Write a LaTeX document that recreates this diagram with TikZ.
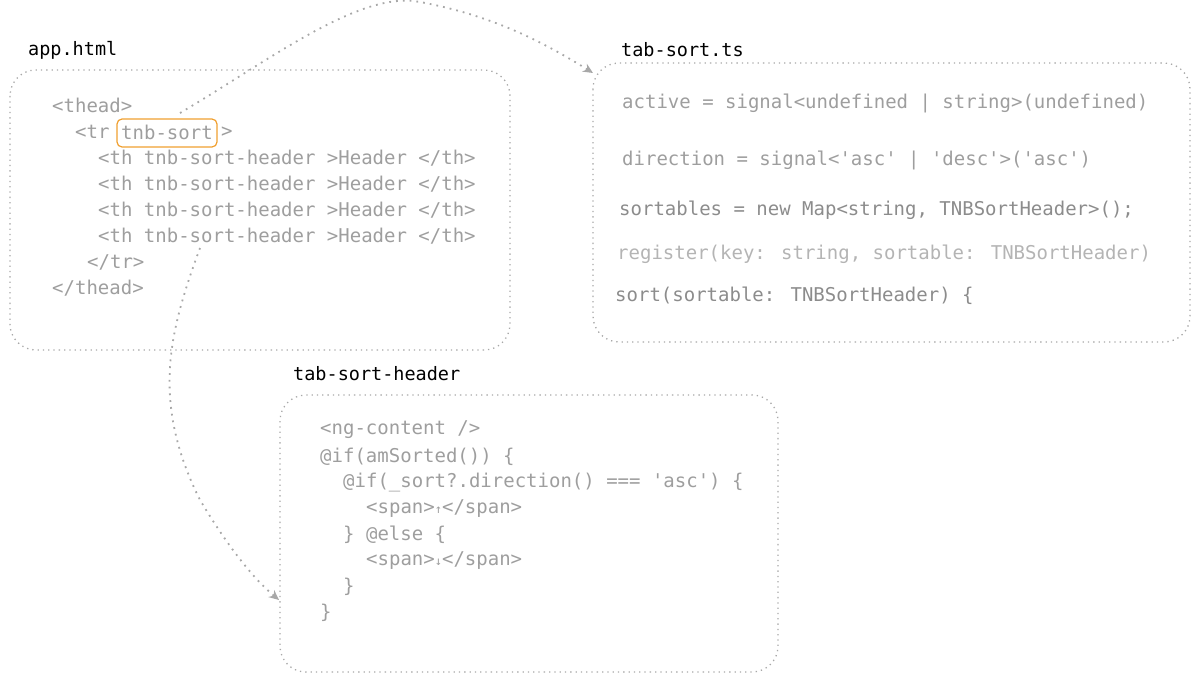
\documentclass[tikz,border=0pt]{standalone}
\usepackage{fontspec}
\setmonofont{DejaVu Sans Mono}
\newfontfamily\arrfont{DejaVu Sans Mono}
\usetikzlibrary{arrows.meta}
\definecolor{codegray}{HTML}{9E9E9E}
\definecolor{codelight}{HTML}{B4B4B4}
\definecolor{codedark}{HTML}{8C8C8C}
\definecolor{boxgray}{HTML}{A8A8A8}
\definecolor{orng}{HTML}{F0A030}
\begin{document}
\begin{tikzpicture}[x=1pt,y=-1pt,
  code/.style={anchor=west,inner sep=0,font=\ttfamily\fontsize{19}{22}\selectfont,text=codegray},
  title/.style={anchor=west,inner sep=0,font=\ttfamily\fontsize{18.5}{22}\selectfont,text=black},
  frame/.style={draw=boxgray,line width=1.3pt,dash pattern=on 1.3pt off 4pt,rounded corners=26pt},
  conn/.style={draw=boxgray,line width=1.8pt,dash pattern=on 1.8pt off 5pt,-{Stealth[length=10pt,width=9pt,open]}}]
\useasboundingbox (0,0) rectangle (1200,685);
\node[title] (t1) at (28,50) {app.html};
\node[title] (t2) at (621,50) {tab-sort.ts};
\node[title] (t3) at (293,374) {tab-sort-header};
\draw[frame] (10,70) rectangle (510,350);
\draw[frame] (593,63) rectangle (1190,342);
\draw[frame] (280,395) rectangle (778,672);
% app.html
\node[code] (a1) at (52,105) {<thead>};
\node[code] (a2) at (75,132) {<tr};
\node[code] (a3) at (121,132) {tnb-sort};
\node[code] (a4) at (221,132) {>};
\foreach \y/\n in {158/5,184/6,210/7,236/8}
  \node[code] (a\n) at (98,\y) {<th tnb-sort-header >Header </th>};
\node[code] (a9) at (87,262) {</tr>};
\node[code] (a10) at (52,288) {</thead>};
\draw[orng,line width=1.2pt,rounded corners=5pt] (117,119) rectangle (217,147);
\coordinate (s1) at (180,113);
\coordinate (s2) at (200,248);
% tab-sort.ts
\node[code] (b1) at (622,103) {active = signal<undefined | string>(undefined)};
\node[code] (b2) at (622,160) {direction = signal<'asc' | 'desc'>('asc')};
\node[code,text=codedark] (b3) at (619,210) {sortables = new Map<string, TNBSortHeader>();};
\node[code,text=codelight] (b4) at (617,254) {register(key: string, sortable: TNBSortHeader)};
\node[code,text=codedark] (b5) at (615,296) {sort(sortable: TNBSortHeader) \{};
\coordinate (e1) at (593,73);
% header
\node[code] (c1) at (320,430) {<ng-content />};
\node[code] (c2) at (320,457) {@if(amSorted()) \{};
\node[code] (c3) at (343,483) {@if(\_sort?.direction() === 'asc') \{};
\node[code] (c4) at (366,509) {<span>{\arrfont\fontsize{12}{12}\selectfont↑}</span>};
\node[code] (c5) at (343,535) {\} @else \{};
\node[code] (c6) at (366,561) {<span>{\arrfont\fontsize{12}{12}\selectfont↓}</span>};
\node[code] (c7) at (343,587) {\}};
\node[code] (c8) at (320,613) {\}};
\coordinate (e2) at (279,600);
% connectors
\draw[conn] (s1) .. controls (270,60) and (360,-10) .. (420,2) .. controls (490,15) and (540,40) .. (e1);
\draw[conn] (s2) .. controls (170,330) and (150,400) .. (200,500) .. controls (230,550) and (255,580) .. (e2);
\end{tikzpicture}
\end{document}
